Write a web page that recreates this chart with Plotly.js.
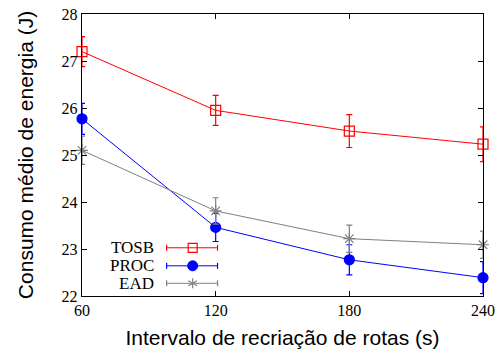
<!DOCTYPE html>
<html>
<head>
<meta charset="utf-8">
<script src="https://cdn.plot.ly/plotly-3.0.1.min.js"></script>
<style>html,body{margin:0;padding:0;background:#fff;}#chart{width:497px;height:355px;}</style>
</head>
<body>
<div id="chart"></div>
<script>
const intervals = [60, 120, 180, 240];
const tosb = [27.20, 25.95, 25.51, 25.23];
const tosbErr = [0.32, 0.32, 0.35, 0.37];
const proc = [25.77, 23.46, 22.77, 22.39];
const procErr = [0.33, 0.30, 0.32, 0.34];
const ead = [25.10, 23.81, 23.22, 23.09];
const eadErr = [0.30, 0.28, 0.29, 0.29];
const seriesNames = ['TOSB', 'PROC', 'EAD'];
const colors = ['#ff0000', '#0000ff', '#808080'];

function tr(y, err, name, color, symbol, size) {
  return {
    x: intervals, y: y, name: name, type: 'scatter', mode: 'lines+markers',
    cliponaxis: false,
    line: {color: color, width: 1},
    marker: {color: color, symbol: symbol, size: size, line: {color: color, width: 1.2}},
    error_y: {type: 'data', array: err, visible: true, color: color, thickness: 1.2, width: 3},
    showlegend: false
  };
}
const data = [
  tr(tosb, tosbErr, seriesNames[0], colors[0], 'square-open', 10),
  tr(proc, procErr, seriesNames[1], colors[1], 'circle', 10),
  tr(ead, eadErr, seriesNames[2], colors[2], 'asterisk-open', 10)
];

// manual gnuplot-style legend
const rowsY = [0.171, 0.107, 0.045];
const shapes = [], annotations = [];
const lx0 = 0.211, lx1 = 0.338, lxm = 0.276, ltx = 0.184;
rowsY.forEach((yy, i) => {
  const c = colors[i];
  annotations.push({xref: 'paper', yref: 'paper', x: ltx, y: yy, xanchor: 'right', yanchor: 'middle',
    text: seriesNames[i], showarrow: false, font: {family: 'Liberation Serif', size: 17, color: '#000'}});
  shapes.push({type: 'line', xref: 'paper', yref: 'paper', x0: lx0, x1: lx1, y0: yy, y1: yy, line: {color: c, width: 1}});
  [lx0, lx1].forEach(xx => shapes.push({type: 'line', xref: 'paper', yref: 'paper', xsizemode: 'pixel', ysizemode: 'pixel',
    xanchor: xx, yanchor: yy, x0: 0, x1: 0, y0: -3, y1: 3, line: {color: c, width: 1.2}}));
  if (i === 0) {
    shapes.push({type: 'rect', xref: 'paper', yref: 'paper', xsizemode: 'pixel', ysizemode: 'pixel',
      xanchor: lxm, yanchor: yy, x0: -4.5, x1: 4.5, y0: -4.5, y1: 4.5, line: {color: c, width: 1.2}, fillcolor: 'rgba(0,0,0,0)'});
  } else if (i === 1) {
    shapes.push({type: 'circle', xref: 'paper', yref: 'paper', xsizemode: 'pixel', ysizemode: 'pixel',
      xanchor: lxm, yanchor: yy, x0: -5, x1: 5, y0: -5, y1: 5, line: {color: c, width: 1}, fillcolor: c});
  } else {
    const r = 5;
    [[0, r], [r * 0.87, r * 0.5], [r * 0.87, -r * 0.5]].forEach(([dx, dy]) =>
      shapes.push({type: 'line', xref: 'paper', yref: 'paper', xsizemode: 'pixel', ysizemode: 'pixel',
        xanchor: lxm, yanchor: yy, x0: -dx, x1: dx, y0: -dy, y1: dy, line: {color: c, width: 1.2}}));
  }
});

const layout = {
  width: 497, height: 355,
  margin: {l: 82, r: 14, t: 14, b: 59},
  paper_bgcolor: '#fff', plot_bgcolor: '#fff',
  showlegend: false,
  xaxis: {
    range: [60, 240], tickvals: intervals, ticktext: intervals.map(String),
    ticks: 'inside', ticklen: 5, tickcolor: '#000', showline: true, linecolor: '#000', linewidth: 1.2,
    mirror: 'ticks', showgrid: false, zeroline: false,
    tickfont: {family: 'Liberation Serif', size: 16, color: '#000'},
    title: {text: 'Intervalo de recriação de rotas (s)', font: {family: 'Liberation Sans', size: 21, color: '#000'}, standoff: 11}
  },
  yaxis: {
    range: [22, 28], tickvals: [22, 23, 24, 25, 26, 27, 28],
    ticks: 'inside', ticklen: 5, tickcolor: '#000', showline: true, linecolor: '#000', linewidth: 1.2,
    mirror: 'ticks', showgrid: false, zeroline: false,
    tickfont: {family: 'Liberation Serif', size: 16, color: '#000'},
    title: {text: 'Consumo médio de energia (J)', font: {family: 'Liberation Sans', size: 21, color: '#000'}, standoff: 22}
  },
  shapes: shapes, annotations: annotations
};
Plotly.newPlot('chart', data, layout, {displayModeBar: false, staticPlot: true});
</script>
</body>
</html>
